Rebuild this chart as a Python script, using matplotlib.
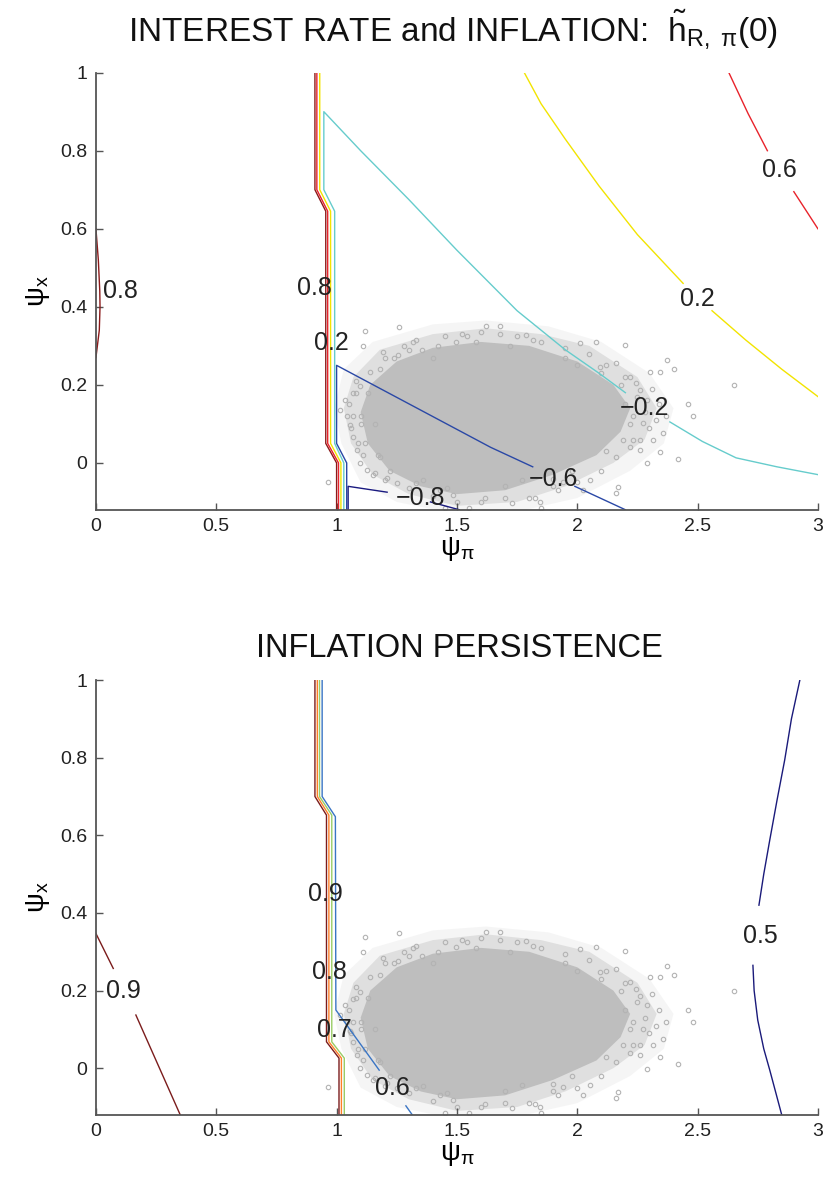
import matplotlib
matplotlib.use('Agg')
import matplotlib.pyplot as plt
import numpy as np

nan = np.nan

plt.rcParams['font.family'] = ['Liberation Sans', 'DejaVu Sans']
plt.rcParams['mathtext.fontset'] = 'custom'
plt.rcParams['mathtext.rm'] = 'Liberation Sans'
plt.rcParams['mathtext.it'] = 'Liberation Sans:italic'

# posterior draws of (psi_pi, psi_x): outline of the dense core, the thinner rings round it ...
core_pi = [1.10, 1.14, 1.25, 1.40, 1.60, 1.80, 2.00, 2.15, 2.22, 2.18, 2.08, 1.90, 1.70, 1.50, 1.35, 1.22, 1.13]
core_x = [0.13, 0.20, 0.26, 0.295, 0.31, 0.30, 0.26, 0.20, 0.14, 0.08, 0.02, -0.03, -0.07, -0.08, -0.06, -0.02, 0.05]
ring_pi = [1.03, 1.07, 1.18, 1.40, 1.62, 1.85, 2.05, 2.25, 2.33, 2.28, 2.15, 1.95, 1.75, 1.50, 1.30, 1.15, 1.06]
ring_x = [0.14, 0.22, 0.29, 0.33, 0.345, 0.33, 0.30, 0.22, 0.14, 0.06, 0.00, -0.06, -0.10, -0.11, -0.08, -0.03, 0.05]
outer_pi = [0.99, 1.03, 1.15, 1.40, 1.62, 1.88, 2.10, 2.30, 2.40, 2.36, 2.22, 2.00, 1.75, 1.45, 1.25, 1.10, 1.02]
outer_x = [0.14, 0.24, 0.31, 0.355, 0.365, 0.35, 0.31, 0.23, 0.14, 0.05, -0.02, -0.09, -0.125, -0.125, -0.10, -0.05, 0.05]
# ... and the loose draws around it
draws_pi = [1.259, 1.120, 1.620, 1.111, 1.194, 1.316, 1.353, 1.498, 1.540, 1.256, 1.138, 1.097, 1.069, 1.034,
            1.014, 1.042, 1.055, 1.069, 1.083, 1.097, 1.125, 1.159, 0.965, 1.208, 1.249, 1.332, 1.429, 1.484,
            1.616, 1.180, 1.678, 1.788, 1.817, 2.011, 2.080, 2.198, 2.163, 2.094, 2.219, 2.246, 2.302, 2.343,
            2.371, 2.260, 2.288, 2.232, 2.274, 2.329, 2.357, 2.315, 2.260, 2.288, 2.163, 2.170, 2.163, 2.052,
            2.025, 1.942, 1.824, 1.845, 1.727, 1.769, 2.232, 2.343, 2.650, 2.460, 2.420, 2.480, 2.400,
            1.13, 1.16, 1.12, 1.18, 1.24, 1.30, 1.42, 1.58, 1.72, 1.95, 2.10, 2.18, 2.20, 2.22, 2.19, 2.12,
            1.98, 1.90, 1.70, 1.46, 1.36, 1.22, 1.17, 1.10, 1.40, 1.90, 2.00,
            1.05, 1.07, 1.08, 1.06, 1.09, 1.11, 1.10, 1.08, 1.20, 1.28, 1.33, 1.45, 1.52, 1.60, 1.68, 1.75,
            1.85, 1.95, 2.05, 2.12, 2.25, 2.28, 2.30, 2.26, 2.22, 2.31, 2.34, 2.37, 2.20, 2.10, 2.00, 1.92,
            1.80, 1.70, 1.60, 1.50, 1.40, 1.30, 1.20, 1.15, 1.55, 1.85, 1.45]
draws_x = [0.348, 0.337, 0.351, 0.300, 0.283, 0.309, 0.290, 0.311, 0.324, 0.277, 0.234, 0.196, 0.179, 0.162,
           0.136, 0.119, 0.097, 0.067, 0.033, 0.000, -0.018, -0.026, -0.048, -0.039, -0.052, -0.052, -0.069,
           -0.082, -0.091, 0.016, 0.350, 0.328, 0.315, 0.307, 0.311, 0.303, 0.256, 0.247, 0.221, 0.204, 0.234,
           0.234, 0.264, 0.187, 0.162, 0.119, 0.102, 0.110, 0.076, 0.059, 0.033, -0.001, 0.016, -0.061, -0.078,
           -0.044, -0.069, -0.048, -0.091, -0.099, -0.103, -0.044, 0.059, 0.029, 0.200, 0.150, 0.010, 0.120,
           0.240, 0.18, 0.10, 0.05, 0.24, 0.27, 0.29, 0.30, 0.31, 0.30, 0.27, 0.23, 0.20, 0.15, 0.10, 0.06,
           0.03, -0.02, -0.04, -0.06, -0.065, -0.045, -0.02, 0.02, 0.12, 0.27, -0.06, 0.25,
           0.15, 0.12, 0.18, 0.09, 0.05, 0.02, 0.10, 0.21, 0.27, 0.30, 0.315, 0.325, 0.33, 0.335, 0.33, 0.325,
           0.31, 0.295, 0.28, 0.25, 0.17, 0.13, 0.09, 0.06, 0.04, 0.19, 0.15, 0.12, 0.22, -0.02, -0.05, -0.07,
           -0.09, -0.09, -0.10, -0.10, -0.085, -0.065, -0.045, -0.03, -0.115, -0.115, -0.115]

# top panel: contours of h~_{R,pi}(0)
h08_pi = [0.910, 0.910, 0.955, 0.955, 1.000, 1.000, nan, 0.0, 0.010, 0.016, 0.017, 0.014, 0.0]
h08_x = [1.0, 0.70, 0.645, 0.05, 0.0, -0.12, nan, 0.60, 0.52, 0.44, 0.40, 0.34, 0.27]
h06_pi = [0.918, 0.918, 0.963, 0.963, 1.008, 1.008, nan, 2.63, 2.71, 2.79, nan, 2.90, 3.0]
h06_x = [1.0, 0.70, 0.645, 0.05, 0.0, -0.12, nan, 1.0, 0.895, 0.80, nan, 0.695, 0.60]
h02_pi = [0.930, 0.930, 0.975, 0.975, 1.018, 1.018, nan,
          1.78, 1.85, 1.95, 2.09, 2.25, 2.44, nan, 2.56, 2.70, 2.85, 3.0]
h02_x = [1.0, 0.70, 0.645, 0.05, 0.0, -0.12, nan,
         1.0, 0.92, 0.83, 0.71, 0.585, 0.46, nan, 0.39, 0.315, 0.24, 0.17]
hm02_pi = [1.030, 1.030, 0.992, 0.992, 0.947, 0.947, 1.10, 1.30, 1.50, 1.75, 1.95, 2.09, 2.20, nan,
           2.385, 2.52, 2.66, 2.83, 3.0]
hm02_x = [-0.12, 0.0, 0.05, 0.645, 0.70, 0.90, 0.80, 0.675, 0.545, 0.39, 0.29, 0.23, 0.18, nan,
          0.105, 0.055, 0.013, -0.01, -0.03]
hm06_pi = [1.042, 1.042, 1.000, 1.000, 1.64, 1.815, nan, 1.99, 2.20]
hm06_x = [-0.12, 0.0, 0.05, 0.25, 0.04, -0.01, nan, -0.06, -0.12]
hm08_pi = [1.048, 1.048, 1.21, nan, 1.39, 1.51]
hm08_x = [-0.12, -0.06, -0.075, nan, -0.10, -0.12]
top_labels = ['0.8', '0.8', '0.2', '0.2', '0.6', '\u22120.2', '\u22120.6', '\u22120.8']
top_lab_pi = [0.10, 0.906, 0.98, 2.50, 2.84, 2.28, 1.90, 1.35]
top_lab_x = [0.44, 0.449, 0.308, 0.42, 0.75, 0.14, -0.04, -0.09]

# bottom panel: contours of inflation persistence
p09_pi = [0.910, 0.910, 0.958, 0.958, 1.010, 1.010, nan, 0.0, 0.072, nan, 0.166, 0.353]
p09_x = [1.0, 0.70, 0.652, 0.068, 0.026, -0.12, nan, 0.347, 0.257, nan, 0.137, -0.124]
p08_pi = [0.920, 0.920, 0.968, 0.968, 1.020, 1.020]
p08_x = [1.0, 0.70, 0.652, 0.068, 0.026, -0.12]
p07_pi = [0.929, 0.929, 0.980, 0.980, 1.032, 1.032]
p07_x = [1.0, 0.70, 0.652, 0.068, 0.026, -0.12]
p06_pi = [0.940, 0.940, 0.995, 0.997, 1.177, nan, 1.288, 1.32]
p06_x = [1.0, 0.70, 0.648, 0.15, -0.005, nan, -0.097, -0.125]
p05_pi = [2.925, 2.89, 2.862, 2.83, 2.80, 2.775, 2.755, nan, 2.73, 2.735, 2.75, 2.775, 2.80, 2.85]
p05_x = [1.0, 0.90, 0.794, 0.69, 0.588, 0.50, 0.42, nan, 0.265, 0.20, 0.124, 0.05, -0.005, -0.121]
bot_labels = ['0.9', '0.9', '0.8', '0.7', '0.6', '0.5']
bot_lab_pi = [0.116, 0.955, 0.97, 0.99, 1.23, 2.76]
bot_lab_x = [0.20, 0.45, 0.247, 0.098, -0.05, 0.34]

xticks = [0, 0.5, 1, 1.5, 2, 2.5, 3]
xticklabels = ['0', '0.5', '1', '1.5', '2', '2.5', '3']
yticks = [0, 0.2, 0.4, 0.6, 0.8, 1]
yticklabels = ['0', '0.2', '0.4', '0.6', '0.8', '1']

gray = '#bebebe'

fig = plt.figure(figsize=(8.27, 11.91), dpi=100)
ax1 = fig.add_axes([0.116, 0.572, 0.873, 0.367])
ax2 = fig.add_axes([0.116, 0.064, 0.873, 0.365])


def cloud(ax):
    ax.fill(outer_pi, outer_x, color=gray, alpha=0.15, lw=0, zorder=1)
    ax.fill(ring_pi, ring_x, color=gray, alpha=0.4, lw=0, zorder=1)
    ax.fill(core_pi, core_x, color=gray, lw=0, zorder=1)
    ax.plot(draws_pi, draws_x, 'o', ms=3.2, mfc='none', mec='#b3b3b3', mew=0.8, zorder=1)


def style(ax):
    ax.set_xlim(0, 3)
    ax.set_ylim(-0.12, 1)
    ax.set_xticks(xticks, xticklabels)
    ax.set_yticks(yticks, yticklabels)
    for s in ['top', 'right']:
        ax.spines[s].set_visible(False)
    for s in ['left', 'bottom']:
        ax.spines[s].set_color('#555555')
        ax.spines[s].set_linewidth(1.3)
    ax.tick_params(direction='in', length=5, width=1, color='#555555', labelsize=14,
                   labelcolor='#222222', pad=6)
    ax.set_xlabel(r'$\mathrm{ψ}_{\mathrm{π}}$', fontsize=20, labelpad=0)
    ax.set_ylabel(r'$\mathrm{ψ}_{\mathrm{x}}$', fontsize=20, labelpad=6)


cloud(ax1)
ax1.plot(h08_pi, h08_x, color='#8b1a1a', lw=1)
ax1.plot(h06_pi, h06_x, color='#e8232b', lw=1)
ax1.plot(h02_pi, h02_x, color='#f2e400', lw=1)
ax1.plot(hm02_pi, hm02_x, color='#66cccc', lw=1)
ax1.plot(hm06_pi, hm06_x, color='#2a48a6', lw=1)
ax1.plot(hm08_pi, hm08_x, color='#1a1a80', lw=1)
for t, px, py in zip(top_labels, top_lab_pi, top_lab_x):
    ax1.text(px, py, t, fontsize=18, ha='center', va='center', color='#222222')
style(ax1)

cloud(ax2)
ax2.plot(p09_pi, p09_x, color='#7b1c1c', lw=1)
ax2.plot(p08_pi, p08_x, color='#ff7f27', lw=1)
ax2.plot(p07_pi, p07_x, color='#99cc66', lw=1)
ax2.plot(p06_pi, p06_x, color='#3a75c4', lw=1)
ax2.plot(p05_pi, p05_x, color='#1a1a7a', lw=1)
for t, px, py in zip(bot_labels, bot_lab_pi, bot_lab_x):
    ax2.text(px, py, t, fontsize=18, ha='center', va='center', color='#222222')
style(ax2)

fig.text(0.548, 1 - 30 / 1191,
         r'INTEREST RATE and INFLATION:  $\tilde{\mathrm{h}}_{\mathrm{R,\ π}}\mathrm{(0)}$',
         fontsize=24, ha='center', va='center', color='#111111')
fig.text(0.555, 1 - 648 / 1191, 'INFLATION PERSISTENCE', fontsize=23.5, ha='center', va='center',
         color='#111111')

fig.savefig('out.png', dpi=100)
